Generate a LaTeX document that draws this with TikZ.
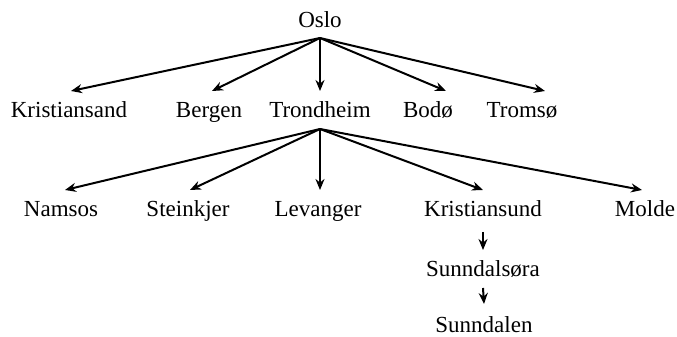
\documentclass[tikz,border=0pt]{standalone}
\usepackage{fontspec}
\setmainfont{Liberation Serif}
\usetikzlibrary{arrows.meta,positioning}

\begin{document}
\begin{tikzpicture}[
    x=0.5pt, y=-0.5pt,
    city/.style={anchor=base, inner sep=0pt, outer ysep=5.5pt, text height=8pt, text depth=0pt, font=\fontsize{11.5}{13}\selectfont},
    arr/.style={-{Stealth[length=5.5pt,width=4.5pt]}, line width=1pt}
]
\useasboundingbox (0,0) rectangle (677,337);

% Top level
\node[city] (oslo) at (320,27) {Oslo};

% Second level
\node[city] (kristiansand) at (69,118) {Kristiansand};
\node[city] (bergen) at (209,118) {Bergen};
\node[city] (trondheim) at (320,118) {Trondheim};
\node[city] (bodo) at (428,118) {Bodø};
\node[city] (tromso) at (522,118) {Tromsø};

% Third level
\node[city] (namsos) at (61,217) {Namsos};
\node[city] (steinkjer) at (188,217) {Steinkjer};
\node[city] (levanger) at (318,217) {Levanger};
\node[city] (kristiansund) at (483,217) {Kristiansund};
\node[city] (molde) at (645,217) {Molde};

% Below Kristiansund
\node[city] (sunndalsora) at (483,277) {Sunndalsøra};
\node[city] (sunndalen) at (484,333) {Sunndalen};

% Arrows
\draw[arr] (oslo.south) -- ([xshift=1pt]kristiansand.north);
\draw[arr] (oslo.south) -- ([xshift=1.5pt]bergen.north);
\draw[arr] (oslo.south) -- (trondheim.north);
\draw[arr] (oslo.south) -- ([xshift=9pt]bodo.north);
\draw[arr] (oslo.south) -- ([xshift=11.5pt]tromso.north);

\draw[arr] (trondheim.south) -- ([xshift=2pt]namsos.north);
\draw[arr] (trondheim.south) -- ([xshift=1pt]steinkjer.north);
\draw[arr] (trondheim.south) -- ([xshift=1pt]levanger.north);
\draw[arr] (trondheim.south) -- (kristiansund.north);
\draw[arr] (trondheim.south) -- ([xshift=-1.5pt]molde.north);

\draw[arr] ([yshift=-2pt]kristiansund.south) -- (sunndalsora.north);
\draw[arr] (sunndalsora.south) -- ([yshift=1pt]sunndalen.north);

\end{tikzpicture}
\end{document}
